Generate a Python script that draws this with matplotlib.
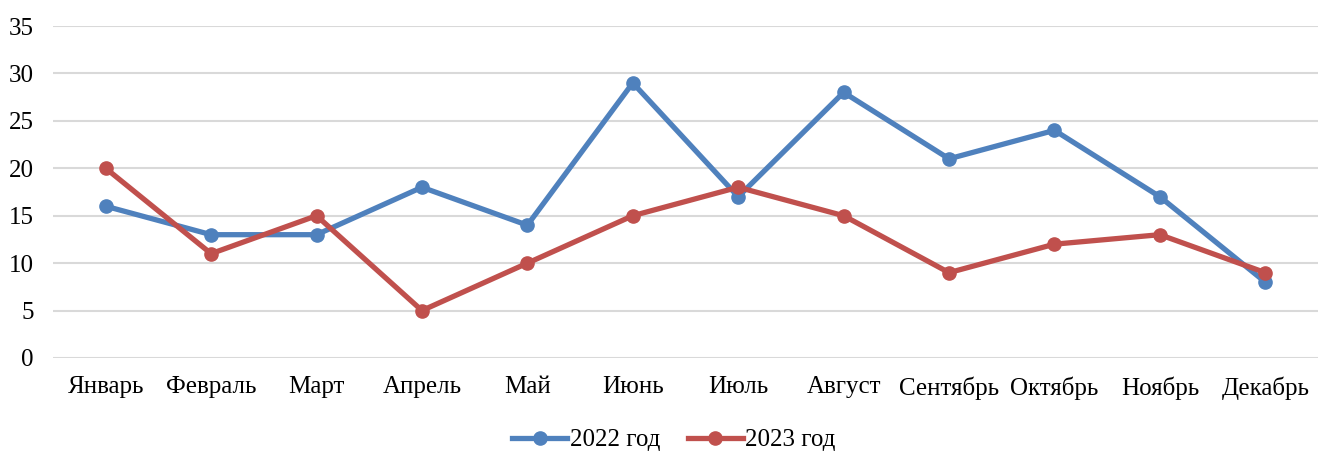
import matplotlib
matplotlib.use("Agg")
import matplotlib.pyplot as plt

months = ["Январь", "Февраль", "Март", "Апрель", "Май", "Июнь", "Июль",
          "Август", "Сентябрь", "Октябрь", "Ноябрь", "Декабрь"]
y2022 = [16, 13, 13, 18, 14, 29, 17, 28, 21, 24, 17, 8]
y2023 = [20, 11, 15, 5, 10, 15, 18, 15, 9, 12, 13, 9]
labels = ["2022 год", "2023 год"]
yticks = [0, 5, 10, 15, 20, 25, 30, 35]

plt.rcParams['font.family'] = ['Liberation Serif', 'DejaVu Serif']

fig = plt.figure(figsize=(13.31, 4.51), dpi=100)
ax = fig.add_axes([53/1331, 93/451, (1318-53)/1331, (358-26)/451])

x = list(range(len(months)))
ax.plot(x, y2022, color="#4F81BD", lw=3.8, marker="o", ms=9.5, label=labels[0], zorder=3)
ax.plot(x, y2023, color="#C0504D", lw=3.8, marker="o", ms=9.5, label=labels[1], zorder=3)

ax.set_xlim(-0.5, len(months) - 0.5)
ax.set_ylim(0, 35)
ax.set_yticks(yticks)
ax.set_xticks(x)
ax.set_xticklabels(months)
ax.grid(axis="y", color="#D9D9D9", lw=1.5)
ax.set_axisbelow(True)
for s in ax.spines.values():
    s.set_visible(False)
ax.tick_params(axis="both", length=0, labelsize=18, colors="black")
ax.tick_params(axis="x", pad=13)
ax.tick_params(axis="y", pad=14)

leg = fig.legend(loc="center", bbox_to_anchor=(674/1331, 1 - 440/451), ncol=2, frameon=False,
                 fontsize=18, handlelength=2.2, columnspacing=1.1, handletextpad=0.1)

fig.savefig("out.png", dpi=100)
